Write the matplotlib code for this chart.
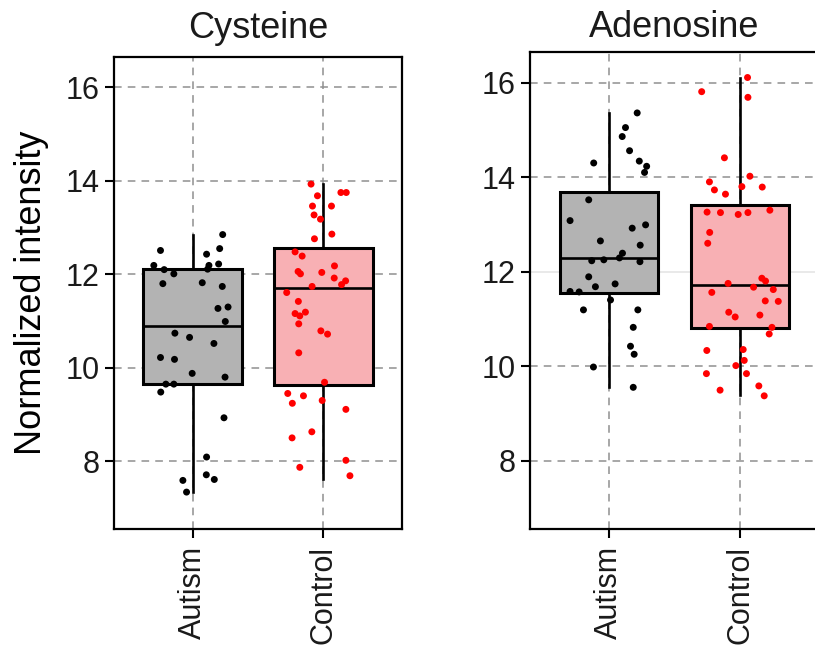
import matplotlib.pyplot as plt
import numpy as np

plt.rcParams['font.family'] = ['Liberation Sans', 'DejaVu Sans']

groups = ['Autism', 'Control']
panels = ['Cysteine', 'Adenosine']

# Cysteine, Autism
cys_aut = [12.85, 12.51, 12.55, 12.43, 12.19, 12.10, 12.19, 12.11, 12.22, 12.01,
           11.80, 11.82, 11.74, 11.27, 11.30, 10.99, 10.74, 10.65, 10.52, 10.22,
           10.18, 9.88, 9.80, 9.65, 9.65, 9.48, 8.93, 8.09, 7.59, 7.71, 7.61, 7.34]
cys_aut_jit = [0.230, -0.245, 0.207, 0.107, -0.296, -0.217, 0.125, 0.115, 0.199, -0.143,
               -0.227, 0.074, 0.227, 0.194, 0.271, 0.250, -0.135, -0.023, 0.163, -0.245,
               -0.138, -0.003, 0.248, -0.204, -0.143, -0.243, 0.240, 0.107, -0.074, 0.105,
               0.166, -0.046]

# Cysteine, Control
cys_ctl = [13.93, 13.75, 13.75, 13.68, 13.46, 13.46, 13.27, 13.18, 12.86, 12.76,
           12.48, 12.39, 12.18, 12.06, 12.01, 12.04, 11.92, 11.86, 11.78, 11.74,
           11.61, 11.42, 11.16, 11.11, 11.19, 10.94, 10.79, 10.72, 10.32, 9.69,
           9.45, 9.40, 9.24, 9.30, 9.11, 8.63, 8.50, 8.02, 7.87, 7.69]
cys_ctl_jit = [-0.095, 0.133, 0.174, -0.046, -0.084, 0.061, -0.072, -0.023, 0.064, -0.069,
               -0.217, -0.163, 0.084, -0.194, -0.176, -0.013, 0.082, 0.169, 0.138, -0.087,
               -0.281, -0.192, -0.217, -0.181, -0.138, -0.189, -0.020, 0.031, -0.189, 0.008,
               -0.273, -0.153, -0.238, -0.010, 0.171, -0.089, -0.240, 0.171, -0.181, 0.202]

# Adenosine, Autism
ade_aut = [15.36, 15.05, 14.86, 14.56, 14.30, 14.34, 14.23, 14.10, 13.52, 13.08,
           12.99, 12.92, 12.65, 12.56, 12.39, 12.29, 12.23, 12.25, 12.21, 11.89,
           11.68, 11.74, 11.58, 11.57, 11.40, 11.19, 11.19, 10.82, 10.42, 10.25,
           9.98, 9.55]
ade_aut_jit = [0.216, 0.127, 0.102, 0.158, -0.115, 0.232, 0.288, 0.272, -0.153, -0.295,
               0.280, 0.178, -0.064, 0.239, 0.104, 0.081, -0.130, -0.038, 0.237, -0.153,
               -0.102, 0.048, -0.295, -0.226, 0.013, -0.193, 0.221, 0.186, 0.165, 0.193,
               -0.117, 0.186]

# Adenosine, Control
ade_ctl = [16.11, 15.81, 15.69, 14.41, 14.02, 13.90, 13.73, 13.80, 13.79, 13.64,
           13.26, 13.25, 13.21, 13.25, 13.30, 12.83, 12.60, 11.86, 11.80, 11.75,
           11.67, 11.62, 11.56, 11.38, 11.37, 11.14, 11.04, 11.08, 10.84, 10.82,
           10.68, 10.33, 10.35, 10.12, 10.01, 9.84, 9.84, 9.58, 9.49, 9.37]
ade_ctl_jit = [0.056, -0.293, 0.059, -0.120, 0.074, -0.234, -0.196, 0.013, 0.168, -0.112,
               -0.252, -0.150, -0.015, 0.059, 0.226, -0.232, -0.247, 0.165, 0.193, -0.092,
               0.102, 0.252, -0.216, 0.191, 0.290, -0.087, -0.038, 0.150, -0.234, 0.242,
               0.221, -0.254, 0.023, 0.031, -0.033, -0.257, 0.048, 0.142, -0.153, 0.183]

# box summaries: whisker low, q1, median, q3, whisker high
cys_stats = [[7.34, 9.66, 10.89, 12.11, 12.85], [7.61, 9.63, 11.70, 12.56, 13.93]]
ade_stats = [[9.55, 11.54, 12.29, 13.68, 15.36], [9.38, 10.80, 11.71, 13.40, 16.10]]

values = [[cys_aut, cys_ctl], [ade_aut, ade_ctl]]
jitters = [[cys_aut_jit, cys_ctl_jit], [ade_aut_jit, ade_ctl_jit]]
stats = [cys_stats, ade_stats]

box_fill = ['#b3b3b3', '#f8b0b4']
dot_col = ['black', '#ff0000']

fig = plt.figure(figsize=(8.15, 6.46), dpi=100)
axes = [fig.add_axes([0.1399, 0.1811, 0.3534, 0.7307]),
        fig.add_axes([0.6503, 0.1811, 0.3546, 0.7384])]
title_pad = [14, 11]

for i, ax in enumerate(axes):
    bxp_stats = []
    for j, s in enumerate(stats[i]):
        bxp_stats.append({'whislo': s[0], 'q1': s[1], 'med': s[2], 'q3': s[3],
                          'whishi': s[4], 'fliers': []})
    bp = ax.bxp(bxp_stats, positions=[1, 2], widths=0.75, patch_artist=True,
                showcaps=False, showfliers=False,
                boxprops=dict(linewidth=2.2, edgecolor='black'),
                medianprops=dict(color='black', linewidth=1.9),
                whiskerprops=dict(color='black', linewidth=1.9),
                zorder=2)
    for patch, fc in zip(bp['boxes'], box_fill):
        patch.set_facecolor(fc)

    for j in range(2):
        x = (j + 1) + np.array(jitters[i][j])
        ax.scatter(x, values[i][j], s=25, color=dot_col[j], edgecolors='none', zorder=3)

    ax.set_xlim(0.4, 2.6)
    ax.set_ylim(6.55, 16.65)
    ax.set_yticks([8, 10, 12, 14, 16])
    ax.set_xticks([1, 2])
    ax.set_xticklabels(groups, rotation=90)

    ax.grid(True, color='#8f8f8f', linestyle=(0, (5, 4)), linewidth=1.1, zorder=0)
    ax.set_axisbelow(True)
    if i == 1:
        # the 12 line on this panel is a faint solid rule
        for gl, t in zip(ax.yaxis.get_gridlines(), ax.get_yticks()):
            if t == 12:
                gl.set_linestyle('-')
                gl.set_color('#e3e3e3')

    for sp in ax.spines.values():
        sp.set_linewidth(1.6)
    ax.tick_params(direction='out', length=6.5, width=1.5, labelsize=22,
                   labelcolor='#1a1a1a', pad=4)
    ax.tick_params(axis='x', pad=6)
    ax.set_title(panels[i], fontsize=26, color='#1a1a1a', pad=title_pad[i])

axes[0].set_ylabel('Normalized intensity', fontsize=26, color='black', labelpad=12)

fig.savefig('out.png', dpi=100)
